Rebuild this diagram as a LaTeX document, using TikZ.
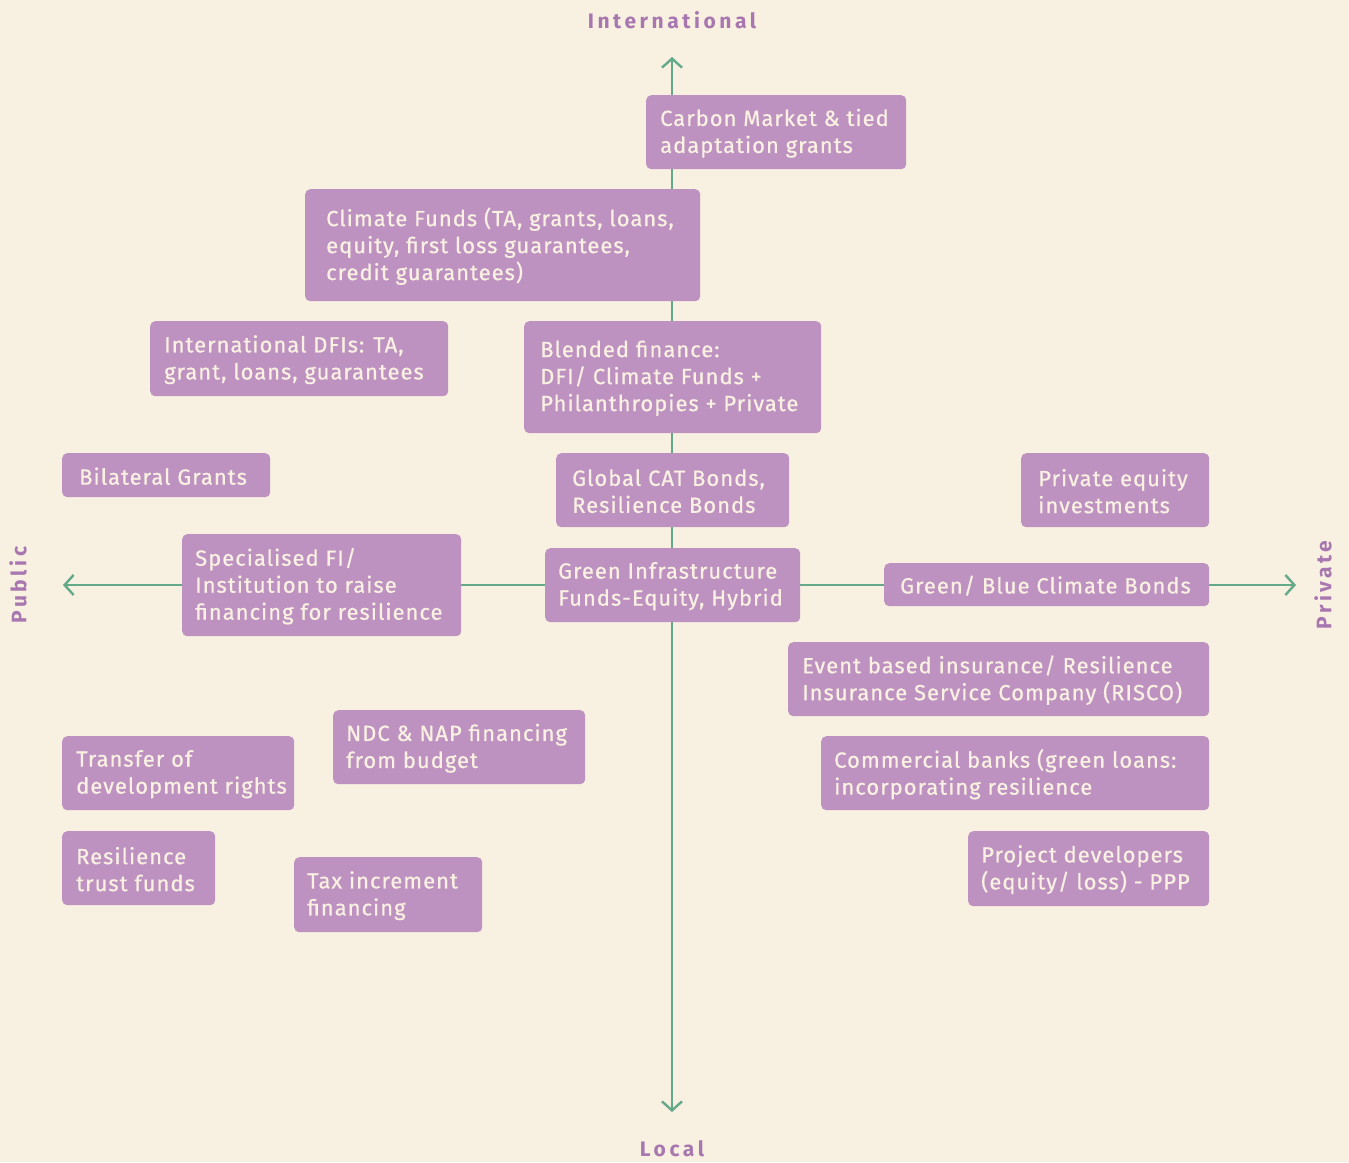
\documentclass[tikz,border=0pt]{standalone}
\usepackage{fontspec}
\setmainfont{Fira Sans}[LetterSpace=4.5,FakeBold=0.6]
\newfontfamily\lblfont{Fira Sans}[LetterSpace=17]
\usetikzlibrary{arrows.meta}
\definecolor{bg}{HTML}{F8F0E0}
\definecolor{boxfill}{HTML}{BD92C1}
\definecolor{boxtext}{HTML}{FAF1E2}
\definecolor{axisc}{HTML}{63A98A}
\definecolor{lblc}{HTML}{A877B0}
\begin{document}
\begin{tikzpicture}[x=1pt,y=-1pt,
  fin/.style={fill=boxfill, text=boxtext, rounded corners=5pt, anchor=north west,
    inner xsep=0pt, inner ysep=0pt, align=left, font=\fontsize{22}{27}\selectfont},
  axis/.style={draw=axisc, line width=2.4pt, {Straight Barb[length=9pt,width=20pt,line width=2.4pt]}-{Straight Barb[length=9pt,width=20pt,line width=2.4pt]}},
  lbl/.style={text=lblc, font=\lblfont\bfseries\fontsize{21}{24}\selectfont}]
\fill[bg] (0,0) rectangle (1349,1162);
\useasboundingbox (0,0) rectangle (1349,1162);
% axes
\coordinate (top) at (672,57);
\coordinate (bot) at (672,1112);
\coordinate (lft) at (63,585);
\coordinate (rgt) at (1296,585);
\draw[axis] (bot) -- (top);
\draw[axis] (lft) -- (rgt);
% axis labels
\node[lbl] (intl) at (672,20) {International};
\node[lbl] (local) at (672,1149) {Local};
\node[lbl, rotate=90] (public) at (18,585) {Public};
\node[lbl, rotate=90] (private) at (1323,585) {Private};
% boxes
\newcommand{\finbox}[7]{% name, left, top, right, bottom, textx, text
  \node[fin, minimum width={(#4-#2)*1pt}, minimum height={(#5-#3)*1pt}] (#1) at (#2,#3)
    {\hspace*{\dimexpr #6pt-#2pt\relax}\parbox[c]{\dimexpr #4pt-#6pt\relax}{\raggedright\vspace*{2pt}#7}};}
\finbox{carbon}{646}{95}{906}{169}{660}{Carbon Market \& tied\\adaptation grants}
\finbox{climate}{305}{189}{700}{301}{326}{Climate Funds (TA, grants, loans,\\equity, first loss guarantees,\\credit guarantees)}
\finbox{dfi}{150}{321}{448}{396}{164}{International DFIs: TA,\\grant, loans, guarantees}
\finbox{blended}{524}{321}{821}{433}{540}{Blended finance:\\DFI/ Climate Funds +\\Philanthropies + Private}
\finbox{bilateral}{62}{453}{270}{497}{79}{Bilateral Grants}
\finbox{cat}{556}{453}{789}{527}{572}{Global CAT Bonds,\\Resilience Bonds}
\finbox{pe}{1021}{453}{1209}{527}{1038}{Private equity\\investments}
\finbox{sfi}{182}{534}{461}{636}{195}{Specialised FI/\\Institution to raise\\financing for resilience}
\finbox{gif}{545}{548}{800}{622}{558}{Green Infrastructure\\Funds-Equity, Hybrid}
\finbox{gbb}{884}{563}{1209}{606}{900}{Green/ Blue Climate Bonds}
\finbox{event}{788}{642}{1209}{716}{802}{Event based insurance/ Resilience\\Insurance Service Company (RISCO)}
\finbox{ndc}{333}{710}{585}{784}{346}{NDC \& NAP financing\\from budget}
\finbox{tdr}{62}{736}{294}{810}{76}{Transfer of\\development rights}
\finbox{banks}{821}{736}{1209}{810}{834}{Commercial banks (green loans:\\incorporating resilience}
\finbox{rtf}{62}{831}{215}{905}{76}{Resilience\\trust funds}
\finbox{tif}{294}{857}{482}{932}{307}{Tax increment\\financing}
\finbox{pd}{968}{831}{1209}{906}{981}{Project developers\\(equity/ loss) - PPP}
\end{tikzpicture}
\end{document}
